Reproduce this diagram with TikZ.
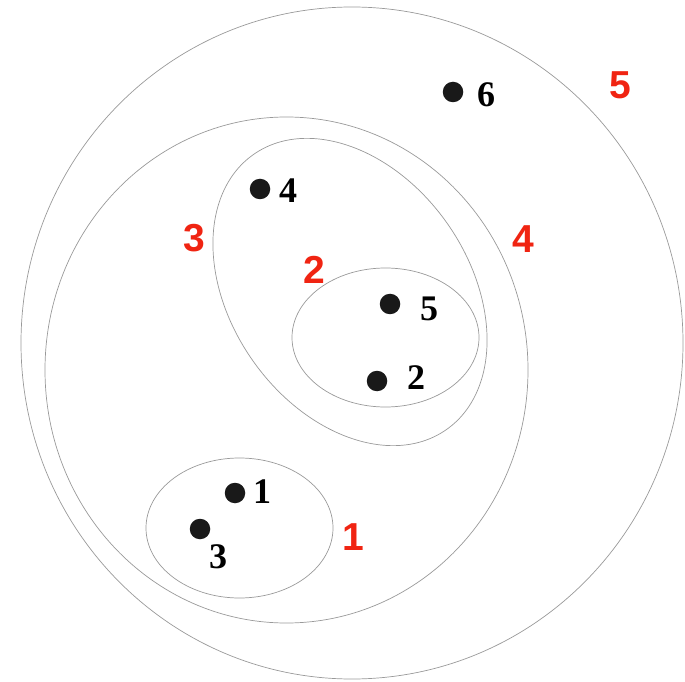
\documentclass[tikz,border=0pt]{standalone}
\usepackage{fontspec}
\setmainfont{Liberation Serif}
\newfontfamily\regionfont{Liberation Sans}
\usepackage{xcolor}
\usetikzlibrary{positioning}
\definecolor{regred}{RGB}{240,36,18}
\tikzset{
    ring/.style={draw=black!40, line width=0.7pt},
    dot/.style={circle, fill=black!90, inner sep=0pt, outer sep=0pt, minimum size=20.5pt},
    num/.style={inner sep=0pt, font=\fontsize{36}{36}\selectfont\bfseries},
    region/.style={inner sep=0pt, text=regred, font=\fontsize{39}{39}\selectfont\regionfont\bfseries}
}
\begin{document}
\begin{tikzpicture}[x=1pt, y=1pt]
    \useasboundingbox (0,0) rectangle (685,681);
    % nested clusters
    \draw [ring] (352,338) ellipse [x radius=331pt, y radius=336pt];
    \draw [ring] (286.5,311) ellipse [x radius=241.5pt, y radius=253pt];
    \draw [ring, rotate around={-55:(350,389)}] (350,389) ellipse [x radius=168pt, y radius=119pt];
    \draw [ring] (385.5,343.5) ellipse [x radius=93.5pt, y radius=69.5pt];
    \draw [ring] (239.5,153) ellipse [x radius=93.5pt, y radius=70pt];

    % points
    \node (d1) [dot] at (235,188) {};
    \node (d2) [dot] at (377,300) {};
    \node (d3) [dot] at (200,152) {};
    \node (d4) [dot] at (260,492) {};
    \node (d5) [dot] at (390,377) {};
    \node (d6) [dot] at (453,589) {};

    \node (n1) [num, right=7.7pt of d1, yshift=1pt] {1};
    \node (n2) [num, right=19.7pt of d2, yshift=3pt] {2};
    \node (n3) [num, below=5.2pt of d3, xshift=18pt] {3};
    \node (n4) [num, right=8.7pt of d4, yshift=-2pt] {4};
    \node (n5) [num, right=19.7pt of d5, yshift=-5pt] {5};
    \node (n6) [num, right=13.7pt of d6, yshift=-3pt] {6};

    % cluster levels
    \node (r1) [region] at (353,144) {1};
    \node (r2) [region] at (314,411) {2};
    \node (r3) [region] at (194,443) {3};
    \node (r4) [region] at (523,442) {4};
    \node (r5) [region] at (620,596) {5};
\end{tikzpicture}
\end{document}
